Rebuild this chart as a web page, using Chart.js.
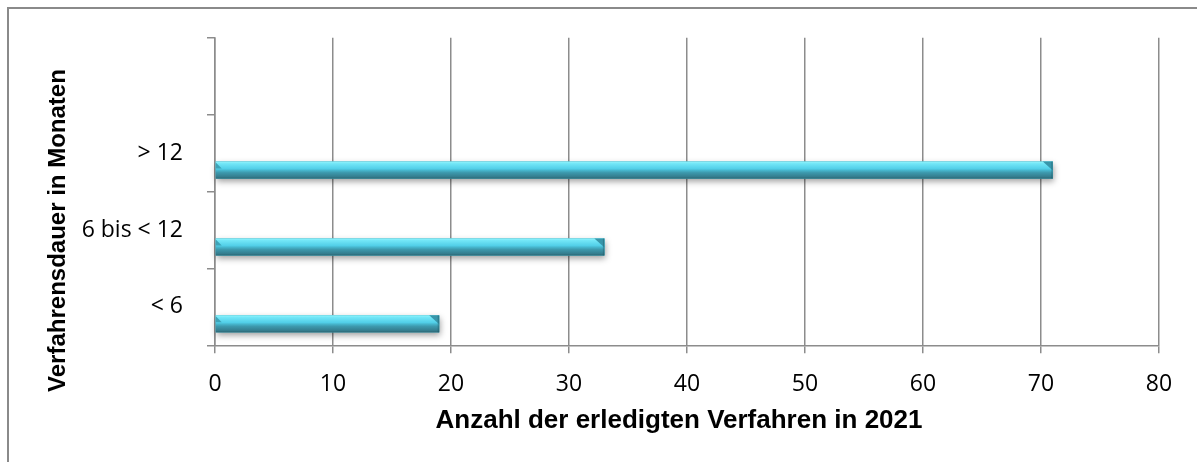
<!DOCTYPE html>
<html lang="de">
<head>
<meta charset="utf-8">
<title>Verfahrensdauer</title>
<script src="https://cdn.jsdelivr.net/npm/chart.js@4.4.1/dist/chart.umd.min.js"></script>
<style>
  html, body { margin: 0; padding: 0; background: #fff; }
  #wrap { position: relative; width: 1197px; height: 462px; overflow: hidden; }
  #frame { position: absolute; left: 7px; top: 7px; width: 1220px; height: 480px;
           border-top: 2px solid #8a8a8a; border-left: 2px solid #8a8a8a; box-sizing: border-box; }
  #chart { position: absolute; left: 0; top: 0; }
</style>
</head>
<body>
<div id="wrap">
  <div id="frame"></div>
  <canvas id="chart" width="1197" height="462"></canvas>
</div>
<script>
// Categories, bottom to top (the top slot stays empty)
const categories = ['< 6', '6 bis < 12', '> 12', ''];
// Number of completed proceedings per duration class
const completed = [19, 33, 71, null];
// Two unused series that keep the cluster slots
const emptyA = [null, null, null, null];
const emptyB = [null, null, null, null];
// Value axis ticks
const xTicks = [0, 10, 20, 30, 40, 50, 60, 70, 80];

const xTitle = 'Anzahl der erledigten Verfahren in 2021';
const yTitle = 'Verfahrensdauer in Monaten';

const GRID = '#8c8c8c';
const TICK_FONT = { family: '"Open Sans", "Noto Sans", sans-serif', size: 23 };

// Soft drop shadow under each bar, then a glossy bevel on top of it
const bevelBars = {
  id: 'bevelBars',
  beforeDatasetsDraw(chart) {
    const ctx = chart.ctx;
    chart.data.datasets.forEach((ds, di) => {
      const meta = chart.getDatasetMeta(di);
      meta.data.forEach((bar, i) => {
        if (ds.data[i] == null) return;
        const p = bar.getProps(['x', 'y', 'base', 'height'], true);
        ctx.save();
        ctx.shadowColor = 'rgba(0,0,0,0.38)';
        ctx.shadowBlur = 6;
        ctx.shadowOffsetX = 1;
        ctx.shadowOffsetY = 3;
        ctx.fillStyle = '#3a8fa2';
        ctx.fillRect(p.base, p.y - p.height / 2, p.x - p.base, p.height);
        ctx.restore();
      });
    });
  },
  afterDatasetsDraw(chart) {
    const ctx = chart.ctx;
    chart.data.datasets.forEach((ds, di) => {
      const meta = chart.getDatasetMeta(di);
      meta.data.forEach((bar, i) => {
        if (ds.data[i] == null) return;
        const p = bar.getProps(['x', 'y', 'base', 'height'], true);
        const top = p.y - p.height / 2, bot = p.y + p.height / 2;
        const L = p.base, R = p.x;
        ctx.save();
        const g = ctx.createLinearGradient(0, top, 0, bot);
        g.addColorStop(0, '#92f4fc');
        g.addColorStop(0.12, '#72e6f7');
        g.addColorStop(0.42, '#52cfe8');
        g.addColorStop(0.52, '#46b5cc');
        g.addColorStop(0.65, '#3d99ad');
        g.addColorStop(0.9, '#347c8d');
        g.addColorStop(1, '#2b6572');
        ctx.fillStyle = g;
        ctx.fillRect(L, top, R - L, bot - top);
        // chamfer at the right end
        ctx.fillStyle = '#3896aa';
        ctx.beginPath();
        ctx.moveTo(R - 10, top);
        ctx.lineTo(R, top);
        ctx.lineTo(R, top + 9);
        ctx.closePath();
        ctx.fill();
        ctx.fillStyle = 'rgba(30,80,92,0.35)';
        ctx.fillRect(R - 1.5, top, 1.5, bot - top);
        // chamfer at the left end
        ctx.fillStyle = '#3ea3b7';
        ctx.beginPath();
        ctx.moveTo(L, top + 1);
        ctx.lineTo(L + 6, top + 7);
        ctx.lineTo(L, top + 7);
        ctx.closePath();
        ctx.fill();
        ctx.restore();
      });
    });
  }
};

// Axis titles, placed relative to the plot area
const axisTitles = {
  id: 'axisTitles',
  afterDraw(chart) {
    const ctx = chart.ctx;
    const a = chart.chartArea;
    ctx.save();
    ctx.fillStyle = '#000';
    ctx.textAlign = 'center';
    ctx.textBaseline = 'alphabetic';
    ctx.font = 'bold 26px "Liberation Sans", Arial, sans-serif';
    ctx.fillText(xTitle, (a.left + a.right) / 2 - 8, a.bottom + 83);
    ctx.translate(a.left - 150, (a.top + a.bottom) / 2 + 39);
    ctx.rotate(-Math.PI / 2);
    ctx.font = 'bold 24px "Liberation Sans", Arial, sans-serif';
    ctx.fillText(yTitle, 0, 0);
    ctx.restore();
  }
};

function build() {
  new Chart(document.getElementById('chart'), {
    type: 'bar',
    data: {
      labels: categories,
      datasets: [
        { data: emptyA, backgroundColor: '#4bbfd5' },
        { data: emptyB, backgroundColor: '#4bbfd5' },
        { label: 'Verfahren', data: completed, backgroundColor: '#4bbfd5', borderWidth: 0 }
      ]
    },
    options: {
      indexAxis: 'y',
      responsive: false,
      animation: false,
      categoryPercentage: 0.663,
      barPercentage: 1.0,
      layout: { padding: { top: 37.7, right: 38, left: 0, bottom: 0 } },
      plugins: { legend: { display: false }, tooltip: { enabled: false } },
      scales: {
        x: {
          type: 'linear',
          min: xTicks[0],
          max: xTicks[xTicks.length - 1],
          afterBuildTicks(scale) { scale.ticks = xTicks.map(v => ({ value: v })); },
          afterFit(scale) { scale.height = 116.7; },
          ticks: { color: '#000', padding: 17, font: TICK_FONT },
          grid: { color: GRID, lineWidth: 1.5, drawTicks: true, tickLength: 8 },
          border: { display: true, color: GRID, width: 1.5 }
        },
        y: {
          type: 'category',
          reverse: true,
          afterFit(scale) { scale.width = 215; },
          ticks: { color: '#000', padding: 24, font: TICK_FONT },
          grid: { color: GRID, lineWidth: 1.5, offset: true, drawOnChartArea: false, drawTicks: true, tickLength: 8 },
          border: { display: true, color: GRID, width: 1.5 }
        }
      }
    },
    plugins: [bevelBars, axisTitles]
  });
}

const fontsReady = document.fonts && document.fonts.load
  ? Promise.all([
      document.fonts.load('23px "Open Sans"'),
      document.fonts.load('bold 26px "Liberation Sans"')
    ]).catch(() => {})
  : Promise.resolve();
fontsReady.then(build, build);
</script>
</body>
</html>
